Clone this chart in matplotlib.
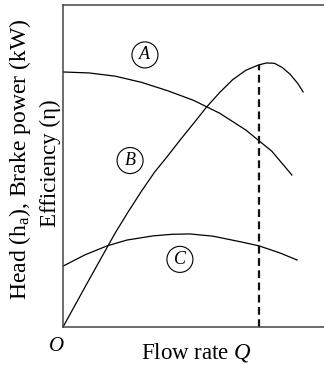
import numpy as np
import matplotlib
matplotlib.use("Agg")
import matplotlib.pyplot as plt

plt.rcParams["font.family"] = ["Liberation Serif", "DejaVu Serif"]
plt.rcParams["mathtext.fontset"] = "custom"
plt.rcParams["mathtext.rm"] = "Liberation Serif"
plt.rcParams["mathtext.it"] = "Liberation Serif:italic"

# head curve (A)
q_head = [0, 10, 20, 30, 40, 50, 60, 70, 80, 87.7]
head = [79.2, 78.9, 77.9, 76.0, 73.4, 70.4, 66.4, 61.2, 54.6, 47.2]

# efficiency curve (B)
q_eff = [0, 10, 20, 25, 30, 35, 40, 45, 50, 55, 60, 65, 70, 75, 78,
         81, 84, 87, 90, 92]
eff = [0, 14.7, 29.2, 35.8, 42.1, 48.0, 53.0, 58.2, 63.2, 68.3, 72.8,
       76.8, 79.7, 81.4, 82.0, 81.9, 80.6, 78.5, 75.6, 73.0]

# brake power curve (C)
q_bp = [0, 8.4, 16.9, 24.5, 34.5, 42.0, 48.7, 57.5, 67.8, 75.1, 83.1, 89.7]
bp = [18.9, 22.4, 25.2, 27.0, 28.3, 28.8, 28.9, 28.2, 26.5, 25.2, 23.0, 20.8]

# operating point: flow at best efficiency
q_best = 75.1
eff_best = 81.4

fig = plt.figure(figsize=(3.24, 3.69), dpi=100)
ax = fig.add_axes([63 / 324, 42 / 369, 261 / 324, 322 / 369])
ax.set_xlim(0, 100)
ax.set_ylim(0, 100)

for side in ["left", "top", "bottom"]:
    ax.spines[side].set_color("#444444")
    ax.spines[side].set_linewidth(1.1)
ax.spines["right"].set_visible(False)
ax.set_xticks([])
ax.set_yticks([])

ax.plot(q_head, head, color="black", lw=0.9)
ax.plot(q_eff, eff, color="black", lw=0.9, clip_on=False)
ax.plot(q_bp, bp, color="black", lw=0.9)
ax.vlines(q_best, 0, eff_best, colors="#111111", lw=1.6,
          linestyles=(0, (3.5, 2.0)))

circ = dict(boxstyle="circle,pad=0.25", fc="white", ec="black", lw=0.8)
for letter, x, y in [("A", 31.4, 84.5), ("B", 25.7, 51.7), ("C", 44.8, 21.0)]:
    ax.text(x, y, letter, style="italic", fontsize=13, ha="center",
            va="center", bbox=circ)

ax.text(-2.3, -6.2, "O", style="italic", fontsize=15, ha="center",
        va="center", clip_on=False)
ax.text(51.3, -8.0, "Flow rate $Q$", fontsize=16.5, ha="center",
        va="center", clip_on=False)
ax.text(-16.5, 52.0, "Head (h$_\\mathrm{a}$), Brake power (kW)", fontsize=17,
        rotation=90, ha="center", va="center", clip_on=False)
ax.text(-5.0, 50.9, "Efficiency (η)", fontsize=16.5, rotation=90,
        ha="center", va="center", clip_on=False)

fig.savefig("out.png", dpi=100)
